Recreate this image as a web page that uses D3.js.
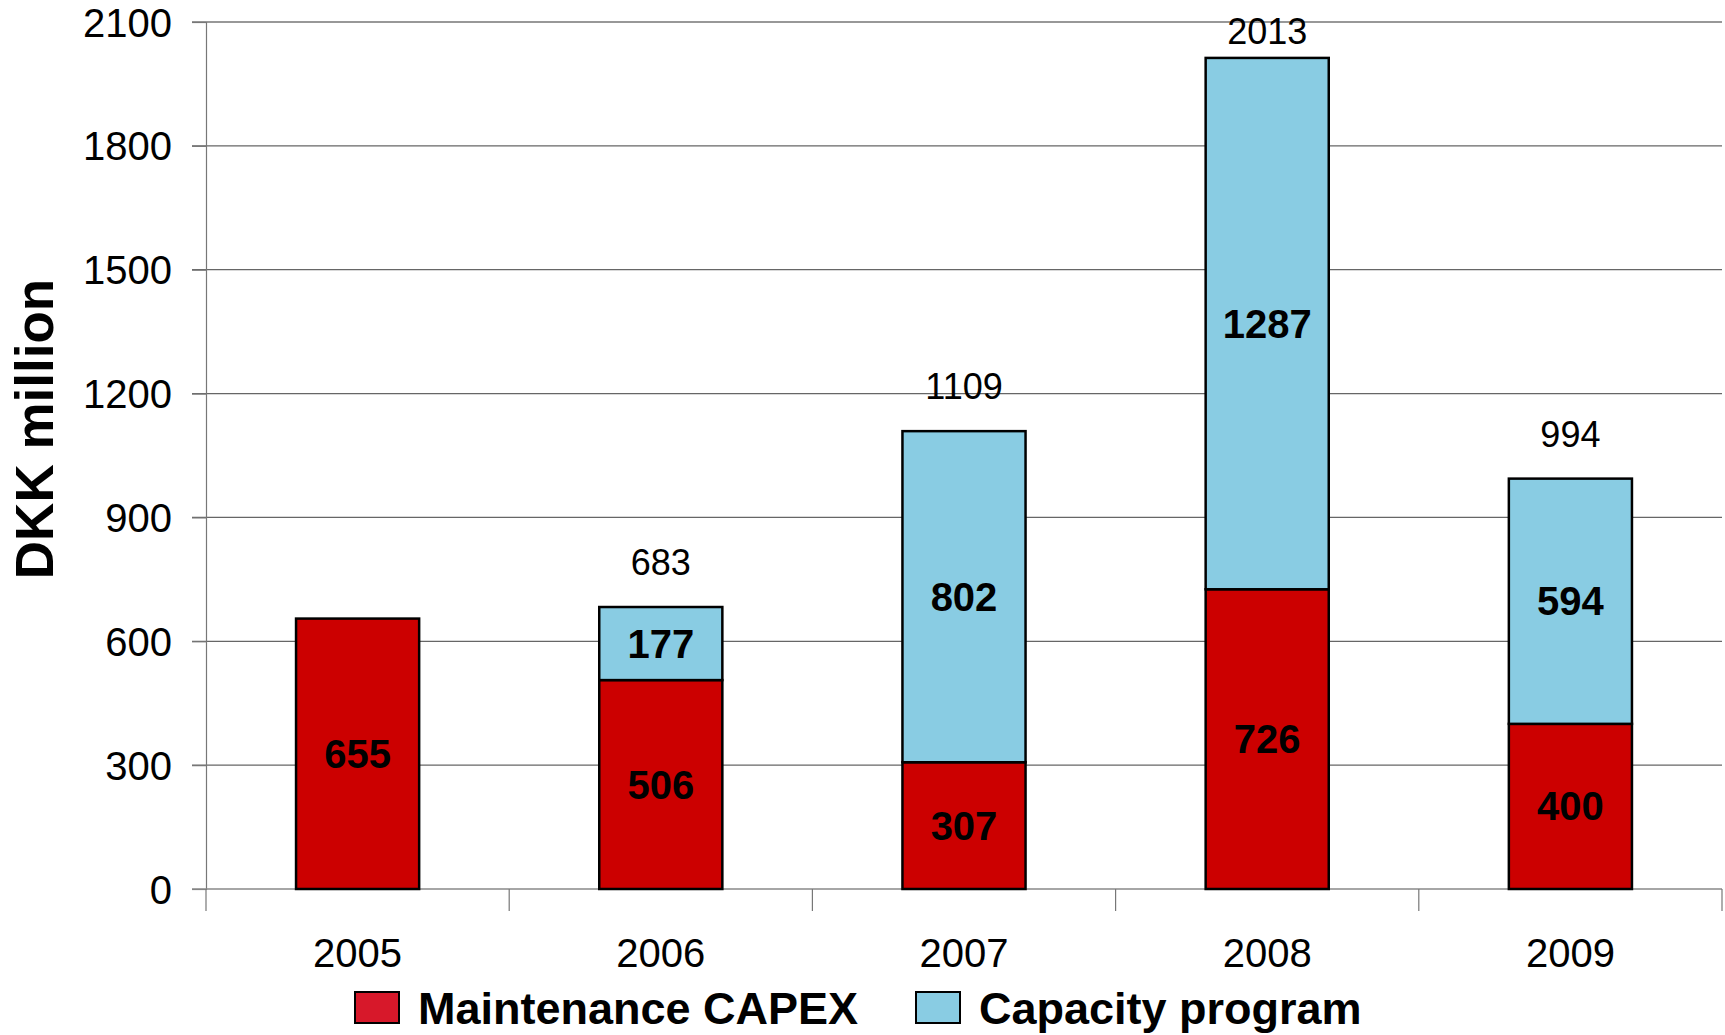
<!DOCTYPE html>
<html>
<head>
<meta charset="utf-8">
<script src="https://cdn.jsdelivr.net/npm/d3@7"></script>
<style>
  html, body { margin: 0; padding: 0; background: #fff; }
  svg { display: block; font-family: "Liberation Sans", Arial, sans-serif; }
</style>
</head>
<body>
<svg id="chart" width="1725" height="1035"></svg>
<script>
const years = ["2005", "2006", "2007", "2008", "2009"];
const maintenance = [655, 506, 307, 726, 400];
const capacity = [0, 177, 802, 1287, 594];
const totals = [null, 683, 1109, 2013, 994];
const yTicks = [0, 300, 600, 900, 1200, 1500, 1800, 2100];
const seriesNames = ["Maintenance CAPEX", "Capacity program"];
const barColors = ["#CC0000", "#89CCE3"];
const legendColors = ["#D7182A", "#89CCE3"];

const svg = d3.select("#chart");
const plotLeft = 206, plotRight = 1722, plotTop = 22, plotBottom = 889;

const x = d3.scaleBand().domain(years).range([plotLeft, plotRight])
  .paddingInner(0.594).paddingOuter(0.297);
const y = d3.scaleLinear().domain([0, 2100]).range([plotBottom, plotTop]);

// gridlines
svg.append("g").selectAll("line").data(yTicks.filter(d => d > 0)).join("line")
  .attr("x1", plotLeft - 14).attr("x2", plotRight)
  .attr("y1", d => y(d)).attr("y2", d => y(d))
  .attr("stroke", d => d === 2100 ? "#333" : "#666").attr("stroke-width", 1.2);

// y axis
const yAxis = d3.axisLeft(y).tickValues(yTicks).tickSize(14).tickPadding(20).tickFormat(d3.format("d"));
const gy = svg.append("g").attr("transform", `translate(${plotLeft},0)`).call(yAxis);
gy.select(".domain").attr("stroke", "#777").attr("stroke-width", 1.2);
gy.selectAll(".tick line").attr("stroke", "#777").attr("stroke-width", 1.2);
gy.selectAll(".tick text").attr("font-size", 40).attr("fill", "#000")
  .attr("font-family", "'Liberation Sans', Arial, sans-serif").attr("dy", "0.35em");

// x axis baseline + ticks at band boundaries
const boundaries = d3.range(years.length + 1).map(i => plotLeft + i * (plotRight - plotLeft) / years.length);
svg.append("line").attr("x1", plotLeft - 14).attr("x2", plotRight)
  .attr("y1", y(0)).attr("y2", y(0)).attr("stroke", "#888").attr("stroke-width", 1.5);
svg.append("g").selectAll("line").data(boundaries).join("line")
  .attr("x1", d => d).attr("x2", d => d)
  .attr("y1", y(0)).attr("y2", y(0) + 22)
  .attr("stroke", "#777").attr("stroke-width", 1.2);

// category labels
svg.append("g").selectAll("text").data(years).join("text")
  .attr("x", d => x(d) + x.bandwidth() / 2).attr("y", 967)
  .attr("text-anchor", "middle").attr("font-size", 40).attr("fill", "#000")
  .text(d => d);

// stacked data
const rows = years.map((yr, i) => ({ year: yr, m: maintenance[i], c: capacity[i], t: totals[i] }));

const bars = svg.append("g");
bars.selectAll("rect.m").data(rows).join("rect").attr("class", "m")
  .attr("x", d => x(d.year)).attr("width", x.bandwidth())
  .attr("y", d => y(d.m)).attr("height", d => y(0) - y(d.m))
  .attr("fill", barColors[0]).attr("stroke", "#000").attr("stroke-width", 2.5);
bars.selectAll("rect.c").data(rows.filter(d => d.c > 0)).join("rect").attr("class", "c")
  .attr("x", d => x(d.year)).attr("width", x.bandwidth())
  .attr("y", d => y(d.m + d.c)).attr("height", d => y(d.m) - y(d.m + d.c))
  .attr("fill", barColors[1]).attr("stroke", "#000").attr("stroke-width", 2.5);

// inner labels
const lab = svg.append("g").attr("font-size", 40).attr("font-weight", "bold")
  .attr("text-anchor", "middle").attr("fill", "#000");
lab.selectAll("text.m").data(rows).join("text").attr("class", "m")
  .attr("x", d => x(d.year) + x.bandwidth() / 2).attr("y", d => y(d.m / 2))
  .attr("dy", "0.35em").text(d => d.m);
lab.selectAll("text.c").data(rows.filter(d => d.c > 0)).join("text").attr("class", "c")
  .attr("x", d => x(d.year) + x.bandwidth() / 2).attr("y", d => y(d.m + d.c / 2))
  .attr("dy", "0.35em").text(d => d.c);

// total labels
svg.append("g").selectAll("text").data(rows.filter(d => d.t !== null)).join("text")
  .attr("x", d => x(d.year) + x.bandwidth() / 2)
  .attr("y", d => Math.max(y(d.t) - 32, 44))
  .attr("text-anchor", "middle").attr("font-size", 36).attr("fill", "#000")
  .text(d => d.t);

// y title
svg.append("text").attr("transform", "translate(53,429) rotate(-90)")
  .attr("text-anchor", "middle").attr("font-size", 53).attr("font-weight", "bold")
  .attr("fill", "#000").text("DKK million");

// legend
const legendX = [355, 916];
const lg = svg.append("g");
seriesNames.forEach((name, i) => {
  lg.append("rect").attr("x", legendX[i]).attr("y", 992).attr("width", 44).attr("height", 31)
    .attr("fill", legendColors[i]).attr("stroke", "#000").attr("stroke-width", 2);
  lg.append("text").attr("x", legendX[i] + 63).attr("y", 1024)
    .attr("font-size", 45).attr("font-weight", "bold").attr("fill", "#000").text(name);
});
</script>
</body>
</html>
